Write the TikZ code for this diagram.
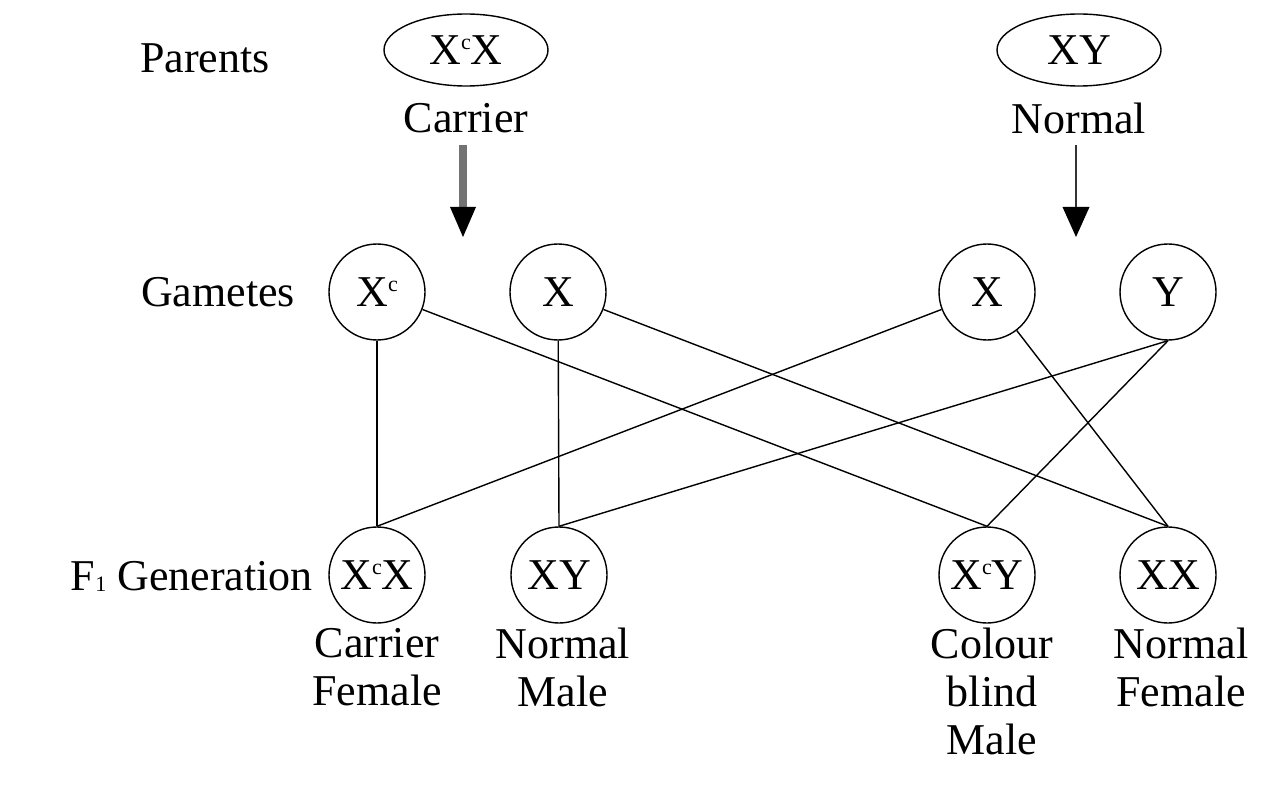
\documentclass[tikz,border=0pt]{standalone}
\usepackage{fontspec}
\setmainfont{Liberation Serif}
\usetikzlibrary{shapes.geometric,arrows.meta}
\newcommand\bigfs{\fontsize{44}{48}\selectfont}
\newcommand\supc{\raisebox{0.33em}{\fontsize{22}{22}\selectfont c}}
\newcommand\subone{\raisebox{-0.04em}{\fontsize{22}{22}\selectfont 1}}
\begin{document}
\begin{tikzpicture}[x=1pt,y=-1pt,
  every node/.style={font=\bigfs, inner sep=0pt},
  cell/.style={circle, draw, line width=1.4pt, minimum size=96pt},
  parent/.style={ellipse, draw, line width=1.4pt, minimum width=164pt, minimum height=72pt},
  link/.style={line width=1.4pt},
  lbl/.style={align=center, anchor=north},
  thickarrow/.style={line width=8pt, draw=black!55, -{Triangle[length=30pt,width=26pt,line width=0pt,color=black]}},
  thinarrow/.style={line width=2.5pt, draw=black!80, -{Triangle[length=30pt,width=27pt,line width=0pt,color=black]}},
]
\useasboundingbox (0,0) rectangle (1271,786);
\fill[white] (0,0) rectangle (1271,786);
% parents
\node (parents) at (205,58) {Parents};
\node[parent] (pm) at (466,50) {X\supc X};
\node[parent] (pf) at (1079,50) {XY};
\node (carrier) at (466,118) {Carrier};
\node (normal) at (1079,118) {Normal};
\coordinate (a1s) at (463,145);
\coordinate (a1e) at (463,237);
\coordinate (a2s) at (1076,145);
\coordinate (a2e) at (1076,237);
\draw[thickarrow] (a1s) -- (a1e);
\draw[thinarrow] (a2s) -- (a2e);
% gametes
\node (gametes) at (218,292) {Gametes};
\node[cell] (xc) at (377,292) {X\supc};
\node[cell] (x1) at (558,292) {X};
\node[cell] (x2) at (987,292) {X};
\node[cell] (y) at (1168,292) {Y};
% F1
\node[anchor=base east] (f1) at (313,590) {F\subone\ Generation};
\node[cell] (xcx) at (377,575) {X\supc X};
\node[cell] (xy) at (559,575) {XY};
\node[cell] (xcy) at (987,575) {X\supc Y};
\node[cell] (xx) at (1168,575) {XX};
\node[lbl] (l1) at (377,628) {Carrier\\Female};
\node[lbl] (l2) at (563,628) {Normal\\Male};
\node[lbl] (l3) at (992,628) {Colour\\blind\\Male};
\node[lbl] (l4) at (1181,628) {Normal\\Female};
% crosses
\draw[link] (xc) -- (xcx.north);
\draw[link] (xc) -- (xcy.north);
\draw[link] (x1) -- (xy.north);
\draw[link] (x1) -- (xx.north);
\draw[link] (x2) -- (xcx.north);
\draw[link] (x2) -- (xx.north);
\draw[link] (y.south) -- (xy.north);
\draw[link] (y.south) -- (xcy.north);
\end{tikzpicture}
\end{document}
